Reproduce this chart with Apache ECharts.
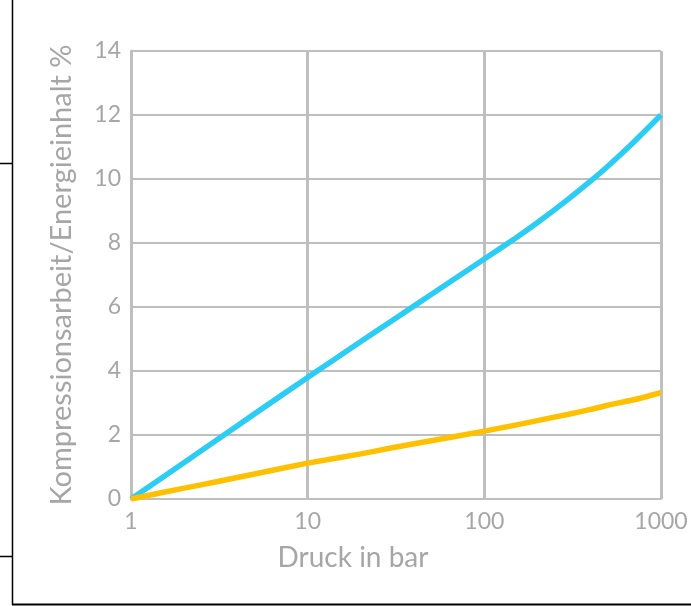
<!DOCTYPE html>
<html>
<head>
<meta charset="utf-8">
<script src="https://cdn.jsdelivr.net/npm/echarts@6/dist/echarts.min.js"></script>
<style>
html,body{margin:0;padding:0;background:#fff;}
#c{width:691px;height:606px;}
</style>
</head>
<body>
<div id="c"></div>
<script>
const pressures = [1, 2, 3, 5, 10, 20, 30, 50, 100, 150, 200, 300, 400, 500, 700, 1000];
const blueValues = [0, 1.14, 1.81, 2.66, 3.8, 4.92, 5.57, 6.39, 7.5, 8.15, 8.64, 9.38, 9.94, 10.4, 11.15, 12.0];
const orangeValues = [0, 0.34, 0.53, 0.78, 1.12, 1.41, 1.6, 1.82, 2.12, 2.31, 2.45, 2.65, 2.8, 2.93, 3.1, 3.32];
const xTicks = [1, 10, 100, 1000];
const yTicks = [0, 2, 4, 6, 8, 10, 12, 14];
const xName = 'Druck in bar';
const yName = 'Kompressionsarbeit/Energieinhalt %';

const gridColor = '#bfbfbf';
const textColor = '#a6a6a6';
const font = 'Lato';

const chart = echarts.init(document.getElementById('c'), null, {renderer: 'canvas'});
chart.setOption({
  animation: false,
  backgroundColor: '#fff',
  grid: {left: 131, right: 30, top: 51, bottom: 107, containLabel: false},
  xAxis: {
    type: 'log', logBase: 10, min: xTicks[0], max: xTicks[xTicks.length - 1],
    name: xName, nameLocation: 'middle', nameGap: 45,
    nameTextStyle: {color: textColor, fontFamily: font, fontSize: 28, padding: [0, 86, 0, 0]},
    axisLine: {show: true, lineStyle: {color: gridColor, width: 2}},
    axisTick: {show: false},
    axisLabel: {color: textColor, fontFamily: font, fontSize: 23, margin: 11, formatter: v => String(v)},
    splitLine: {show: true, lineStyle: {color: gridColor, width: 3}}
  },
  yAxis: {
    type: 'value', min: yTicks[0], max: yTicks[yTicks.length - 1], interval: 2,
    name: yName, nameLocation: 'middle', nameGap: 55, nameRotate: 90,
    nameTextStyle: {color: textColor, fontFamily: font, fontSize: 29},
    axisLine: {show: true, lineStyle: {color: gridColor, width: 3}},
    axisTick: {show: false},
    axisLabel: {color: textColor, fontFamily: font, fontSize: 23, margin: 10},
    splitLine: {show: true, lineStyle: {color: gridColor, width: 2}}
  },
  series: [
    {
      type: 'line', name: 'blue', smooth: 0.2, showSymbol: false,
      data: pressures.map((p, i) => [p, blueValues[i]]),
      lineStyle: {color: '#2ccdf4', width: 5.5}
    },
    {
      type: 'line', name: 'orange', smooth: 0.2, showSymbol: false,
      data: pressures.map((p, i) => [p, orangeValues[i]]),
      lineStyle: {color: '#ffc000', width: 5.5}
    }
  ],
  graphic: [
    {type: 'line', shape: {x1: 12.5, y1: 0, x2: 12.5, y2: 605}, style: {stroke: '#000', lineWidth: 1.5}},
    {type: 'line', shape: {x1: 12, y1: 604.5, x2: 691, y2: 604.5}, style: {stroke: '#000', lineWidth: 2}},
    {type: 'line', shape: {x1: 0, y1: 163.5, x2: 12, y2: 163.5}, style: {stroke: '#000', lineWidth: 1.5}},
    {type: 'line', shape: {x1: 0, y1: 556.5, x2: 12, y2: 556.5}, style: {stroke: '#000', lineWidth: 1.5}}
  ]
});
</script>
</body>
</html>
